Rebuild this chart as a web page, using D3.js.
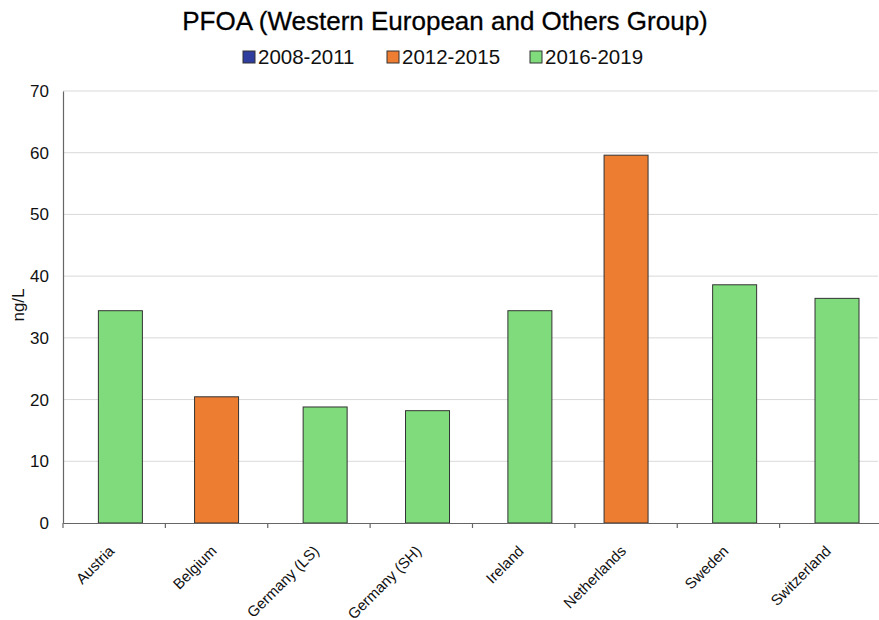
<!DOCTYPE html>
<html><head><meta charset="utf-8">
<script src="https://cdn.jsdelivr.net/npm/d3@7"></script>
<style>body{margin:0;background:#fff;} svg{display:block;font-family:"Liberation Sans",Arial,Helvetica,sans-serif;}</style>
</head><body>
<svg id="chart" width="879" height="620"></svg>
<script>
const title = "PFOA (Western European and Others Group)";
const categories = ["Austria","Belgium","Germany (LS)","Germany (SH)","Ireland","Netherlands","Sweden","Switzerland"];
const seriesNames = ["2008-2011","2012-2015","2016-2019"];
const seriesColors = ["#2e3d9e","#ed7d31","#7fdb7c"];
// value per category, and which period series it belongs to
const values = [34.4, 20.45, 18.8, 18.2, 34.4, 59.6, 38.6, 36.4];
const seriesIndex = [2, 1, 2, 2, 2, 1, 2, 2];
const yTicks = [0,10,20,30,40,50,60,70];
const yLabel = "ng/L";

const svg = d3.select("#chart");
const m = {left:63, right:-3, top:91, bottom:97};
const W = 879, H = 620;
const x = d3.scaleBand().domain(categories).range([m.left, W - m.right]).padding(0);
const y = d3.scaleLinear().domain([0,70]).range([H - m.bottom, m.top]);

// gridlines
svg.append("g").selectAll("line").data(yTicks.filter(d=>d>0)).join("line")
  .attr("x1", m.left).attr("x2", 878)
  .attr("y1", d=>y(d)).attr("y2", d=>y(d))
  .attr("stroke","#d9d9d9").attr("stroke-width",1);

// bars
const bw = 44;
const offset = 6.2;
svg.append("g").selectAll("rect").data(categories).join("rect")
  .attr("x", (c,i)=> x(c) + x.bandwidth()/2 + (seriesIndex[i]-1)*offset - bw/2)
  .attr("y", (c,i)=> y(values[i]))
  .attr("width", bw)
  .attr("height", (c,i)=> y(0) - y(values[i]))
  .attr("fill", (c,i)=> seriesColors[seriesIndex[i]])
  .attr("stroke", "#333").attr("stroke-width", 1);

// y axis
const yAxis = d3.axisLeft(y).tickValues(yTicks).tickSize(0).tickPadding(14);
const gy = svg.append("g").attr("transform",`translate(${m.left},0)`).call(yAxis);
gy.select(".domain").attr("stroke","#666").attr("stroke-width",1.2);
gy.selectAll("text").attr("font-size",17).attr("fill","#111").attr("font-family","Liberation Sans, Arial, sans-serif");

// x axis
const xAxis = d3.axisBottom(x).tickSize(0).tickFormat("");
const gx = svg.append("g").attr("transform",`translate(0,${y(0)})`).call(xAxis);
gx.select(".domain").attr("stroke","#666").attr("stroke-width",1.2);
// boundary ticks
svg.append("g").selectAll("line").data(categories).join("line")
  .attr("x1", c=>x(c)).attr("x2", c=>x(c))
  .attr("y1", y(0)).attr("y2", y(0)+5)
  .attr("stroke","#666").attr("stroke-width",1.2);
// labels
svg.append("g").selectAll("text").data(categories).join("text")
  .attr("transform", c=>`translate(${x(c)+x.bandwidth()/2+1},${y(0)+29}) rotate(-45)`)
  .attr("text-anchor","end")
  .attr("font-size",15).attr("fill","#111")
  .text(c=>c);

// y label
svg.append("text")
  .attr("transform",`translate(24,305) rotate(-90)`)
  .attr("text-anchor","middle").attr("font-size",17).attr("fill","#111")
  .text(yLabel);

// title
svg.append("text").attr("x",445).attr("y",30).attr("text-anchor","middle")
  .attr("font-size",26).attr("fill","#000").attr("stroke","#000").attr("stroke-width",0.3)
  .text(title);

// legend
const legendX = [243, 387, 530];
const lg = svg.append("g").selectAll("g").data(seriesNames).join("g")
  .attr("transform",(d,i)=>`translate(${legendX[i]},64)`);
lg.append("rect").attr("x",0).attr("y",-13).attr("width",12).attr("height",12)
  .attr("fill",(d,i)=>seriesColors[i]).attr("stroke","#333").attr("stroke-width",1);
lg.append("text").attr("x",15).attr("y",0).attr("font-size",20.5).attr("fill","#111").text(d=>d);
</script>
</body></html>
